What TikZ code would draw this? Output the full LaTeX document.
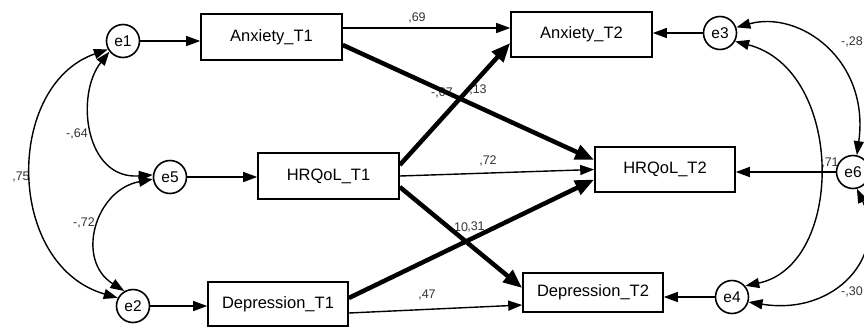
\documentclass[tikz,border=0pt]{standalone}
\usepackage{fontspec}
\setmainfont{Liberation Sans}
\usetikzlibrary{arrows.meta}
\begin{document}
\begin{tikzpicture}[x=1pt,y=-1pt,
 box/.style={draw,line width=1.6pt,minimum width=141pt,minimum height=46pt,inner sep=0pt,fill=white,font=\fontsize{16.5}{18}\selectfont},
 err/.style={draw,circle,line width=1.6pt,minimum size=33pt,inner sep=0pt,fill=white,font=\fontsize{15.5}{17}\selectfont},
 thinarr/.style={line width=1.4pt,-{Triangle[length=14pt,width=10pt]}},
 thickarr/.style={line width=4.5pt,-{Triangle[length=19pt,width=15pt]}},
 cov/.style={line width=1.4pt,{Triangle[length=14pt,width=10pt]}-{Triangle[length=14pt,width=10pt]}},
 lab/.style={font=\fontsize{12.5}{14}\selectfont,text=black!80,inner sep=0pt}]
\useasboundingbox (0,0) rectangle (864,327);

% labels (drawn first, partly covered)
\node[lab] (l69) at (417,18) {,69};
\node[lab] (l07) at (442,93) {-,07};
\node[lab] (l13) at (478,90) {,13};
\node[lab] (l72) at (488,161) {,72};
\node[lab] (l10) at (461,227) {10};
\node[lab] (l31) at (476,227) {,31};
\node[lab] (l47) at (427,295) {,47};
\node[lab] (l64) at (77,134) {-,64};
\node[lab] (l72b) at (84,223) {-,72};
\node[lab] (l75) at (21,177) {,75};
\node[lab] (l28) at (852,42) {-,28};
\node[lab] (l30) at (852,292) {-,30};
\node[lab] (l71) at (830,163) {,71};

% observed variables
\node[box] (a1) at (271.5,37) {Anxiety\_T1};
\node[box] (h1) at (328.5,176) {HRQoL\_T1};
\node[box,minimum width=140pt,minimum height=44pt] (d1) at (278,304) {Depression\_T1};
\node[box,minimum height=45pt] (a2) at (581.5,34.5) {Anxiety\_T2};
\node[box,minimum width=140pt,minimum height=45pt] (h2) at (665,169.5) {HRQoL\_T2};
\node[box,minimum width=140pt,minimum height=39pt] (d2) at (593,292.5) {Depression\_T2};

% paths
\draw[thinarr] ([yshift=9pt]a1.east) -- ([yshift=6.5pt]a2.west);
\draw[thickarr] ([yshift=-8pt]a1.east) -- ([yshift=9.5pt]h2.west);
\draw[thickarr] ([yshift=11pt]h1.east) -- ([yshift=-8.5pt]a2.west);
\draw[thinarr] (h1.east) -- ([yshift=0pt]h2.west);
\draw[thickarr] ([yshift=-11pt]h1.east) -- ([yshift=4.5pt]d2.west);
\draw[thickarr] ([yshift=6pt]d1.east) -- ([yshift=-10pt]h2.west);
\draw[thinarr] ([yshift=-9pt]d1.east) -- ([yshift=-12.5pt]d2.west);

% error terms
\node[err] (e1) at (123,41) {e1};
\node[err] (e5) at (170,177) {e5};
\node[err] (e2) at (133,306) {e2};
\node[err] (e3) at (720,33) {e3};
\node[err] (e6) at (853,172) {e6};
\node[err] (e4) at (732,297) {e4};

\draw[thinarr] (e1) -- (a1.west |- e1);
\draw[thinarr] (e5) -- (h1.west |- e5);
\draw[thinarr] (e2) -- (d1.west |- e2);
\draw[thinarr] (e3) -- (a2.east |- e3);
\draw[thinarr] (e6) -- (h2.east |- e6);
\draw[thinarr] (e4) -- (d2.east |- e4);

% covariances
\draw[cov] (e1.218) .. controls (75,95) and (85,180) .. (e5.173);
\draw[cov] (e5.187) .. controls (95,190) and (75,260) .. (e2.120);
\draw[cov] (e1.209) .. controls (5,85) and (5,265) .. (e2.152);
\draw[cov] (e3.19) .. controls (800,10) and (870,60) .. (e6.77);
\draw[cov] (e3.331) .. controls (845,70) and (845,265) .. (e4.40);
\draw[cov] (e6.283) .. controls (888,255) and (836,316) .. (e4.343);
\end{tikzpicture}
\end{document}
